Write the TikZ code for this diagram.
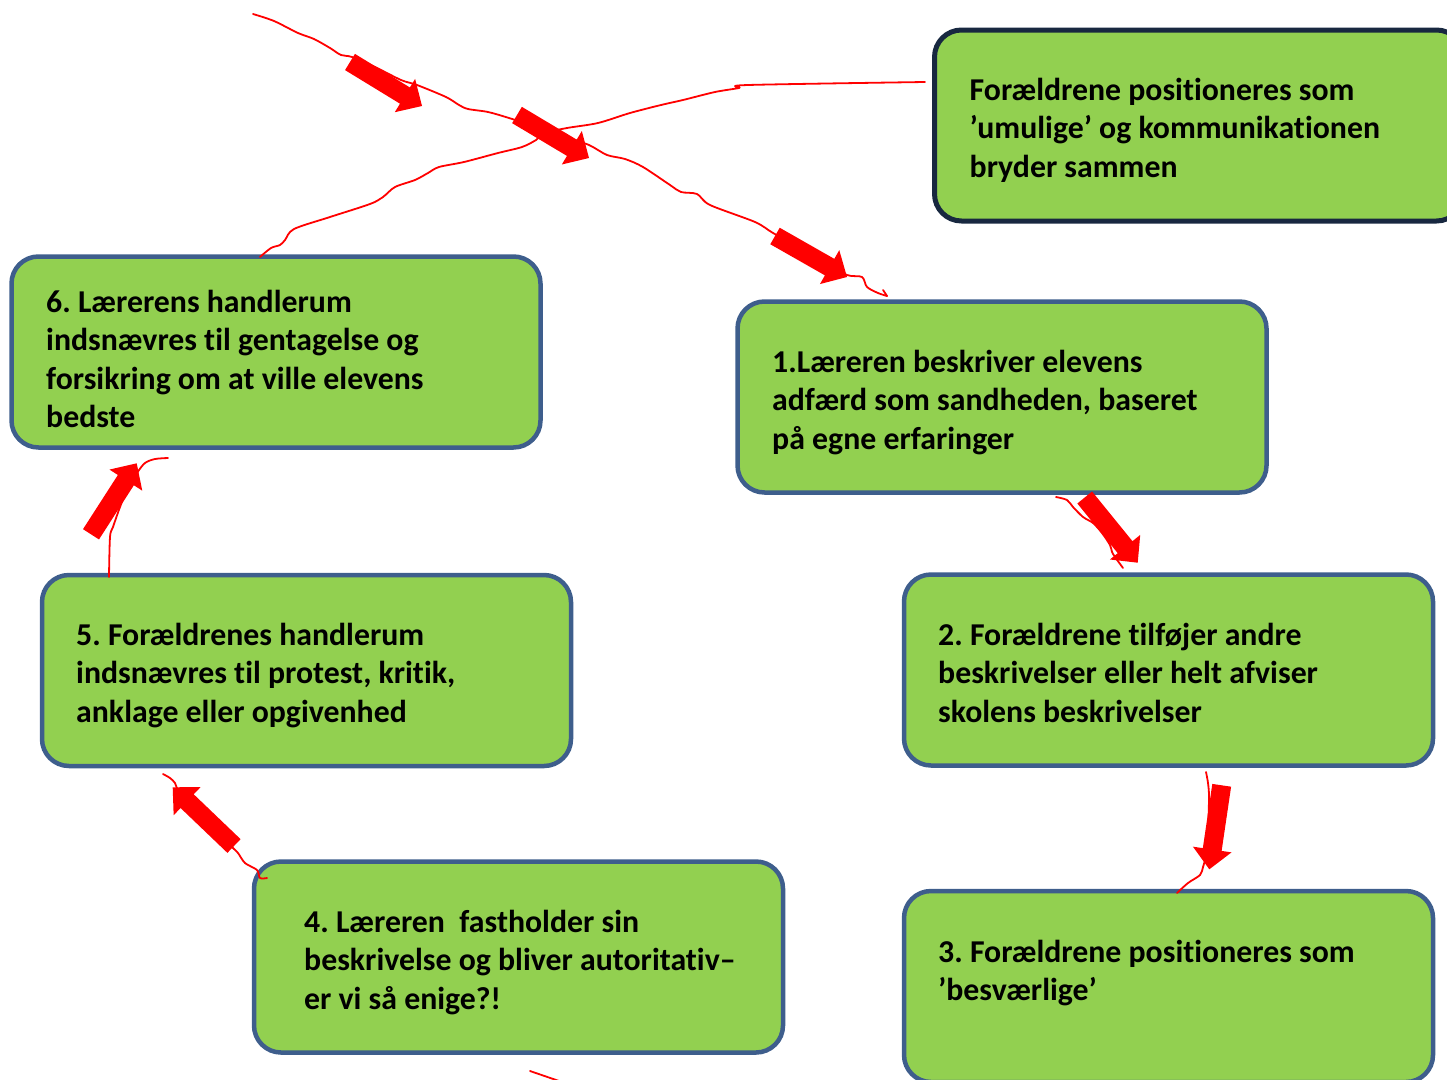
\documentclass[tikz,border=0pt]{standalone}
\usepackage{fontspec}
\setmainfont{Carlito}[Ligatures=NoCommon]
\usetikzlibrary{calc}
\definecolor{boxgreen}{HTML}{92D050}
\definecolor{boxblue}{RGB}{62,94,140}
\definecolor{boxnavy}{RGB}{24,40,64}
\definecolor{pred}{HTML}{FF0000}
\tikzset{
  box/.style={draw=boxblue, fill=boxgreen, line width=4.5pt, rounded corners=27pt,
    minimum width=529pt, minimum height=191pt, inner sep=0pt},
  boxdark/.style={box, draw=boxnavy, line width=5pt},
  txt/.style={anchor=north west, align=left, inner sep=0pt,
    font=\fontsize{31.8pt}{38.5pt}\selectfont\bfseries\frenchspacing},
  redline/.style={draw=pred, line width=1.8pt, line cap=round, line join=round},
  arrowfill/.style={fill=pred}
}
\newcommand\fl{\rule{0pt}{30pt}}
\newcommand\blockarrow[3]{%
  \coordinate (#1h) at ($(#3)!20pt!(#2)$);
  \fill[arrowfill] ($(#2)!9.5pt!90:(#3)$) -- ($(#1h)!9.5pt!90:(#3)$) -- ($(#1h)!19.5pt!90:(#3)$) -- (#3)
    -- ($(#1h)!19.5pt!-90:(#3)$) -- ($(#1h)!9.5pt!-90:(#3)$) -- ($(#2)!9.5pt!-90:(#3)$) -- cycle;}
\begin{document}
\frenchspacing
\begin{tikzpicture}[x=1pt,y=-1pt]
\useasboundingbox (0,0) rectangle (1447,1079);
\clip (0,0) rectangle (1447,1079);
% boxes
\node[boxdark] (bT) at (1199,125.5) {};
\node[box] (b1) at (1002,397) {};
\node[box] (b2) at (1168.5,670) {};
\node[box] (b3) at (1168.5,986.5) {};
\node[box] (b4) at (518.5,957) {};
\node[box] (b5) at (306.5,670.5) {};
\node[box] (b6) at (276,352) {};
% texts
\node[txt] (tT) at (969.5,70) {\fl Forældrene positioneres som\\’umulige’ og kommunikationen\\bryder sammen};
\node[txt] (t1) at (772,342) {\fl 1.Læreren beskriver elevens\\adfærd som sandheden, baseret\\på egne erfaringer};
\node[txt] (t2) at (938,615) {\fl 2. Forældrene tilføjer andre\\beskrivelser eller helt afviser\\skolens beskrivelser};
\node[txt] (t3) at (938,932) {\fl 3. Forældrene positioneres som\\’besværlige’};
\node[txt] (t4) at (304,902) {\fl 4. Læreren\ \ fastholder sin\\beskrivelse og bliver autoritativ–\\er vi så enige?!};
\node[txt] (t5) at (76,615) {\fl 5. Forældrenes handlerum\\indsnævres til protest, kritik,\\anklage eller opgivenhed};
\node[txt] (t6) at (46,282) {\fl 6. Lærerens handlerum\\indsnævres til gentagelse og\\forsikring om at ville elevens\\bedste};
% freehand red lines
\draw[redline] plot[smooth, tension=0.5] coordinates {(253,14) (274,21) (298,33) (314,39) (330,48) (341,55) (352,57) (375,67) (401,80) (417,85) (446,97) (459,105) (468,109) (488,112) (509,118) (540,128) (565,137) (589,145) (607,155) (625,159) (643,167) (670,185) (681,192) (697,194) (710,205) (755,222) (773,233) (800,248) (825,262) (847,275) (862,277) (867,287) (878,293) (887,296)};
\coordinate (endA) at (887,296);
\draw[redline] (endA) -- ++(-4,-6);
\draw[redline] plot[smooth, tension=0.5] coordinates {(260,257) (271,248) (280,245) (285,240) (294,229) (330,217) (370,204) (383,197) (395,187) (415,180) (428,173) (439,167) (464,162) (498,153) (522,147) (536,140) (545,133) (567,128) (598,123) (630,113) (661,105) (683,100) (715,92) (739,88) (748,85) (925,82)};
\draw[redline] plot[smooth, tension=0.5] coordinates {(1056,497) (1067,500) (1073,507) (1083,517) (1093,523) (1102,533) (1110,545) (1112,552) (1115,557) (1123,568)};
\draw[redline] plot[smooth, tension=0.5] coordinates {(1206,772) (1208,783) (1209,797) (1208,830) (1206,855) (1203,867) (1200,875) (1188,883) (1177,893)};
\draw[redline] plot[smooth, tension=0.5] coordinates {(163,774) (170,778) (175,783) (178,790) (190,805) (210,825) (233,848) (238,853) (245,863) (257,870) (260,878) (267,878)};
\draw[redline] plot[smooth, tension=0.5] coordinates {(109,577) (110,537) (113,527) (120,507) (127,490) (137,473) (145,463) (155,459) (168,458)};
\draw[redline] (530,1071) -- (562,1082);
% block arrows
\coordinate (aA) at (350,62);   \coordinate (zA) at (422,106);
\coordinate (aB) at (517,115);  \coordinate (zB) at (589,158);
\coordinate (aC) at (775,236);  \coordinate (zC) at (847,277);
\coordinate (aD) at (1084.7,497.5); \coordinate (zD) at (1137.7,562.7);
\coordinate (aE) at (1221.7,785.3); \coordinate (zE) at (1209.3,869.3);
\coordinate (aF) at (234,846);  \coordinate (zF) at (172.7,787.3);
\coordinate (aG) at (91,534.3); \coordinate (zG) at (136.7,463.3);
\blockarrow{arA}{aA}{zA}
\blockarrow{arB}{aB}{zB}
\blockarrow{arC}{aC}{zC}
\blockarrow{arD}{aD}{zD}
\blockarrow{arE}{aE}{zE}
\blockarrow{arF}{aF}{zF}
\blockarrow{arG}{aG}{zG}
\end{tikzpicture}
\end{document}
